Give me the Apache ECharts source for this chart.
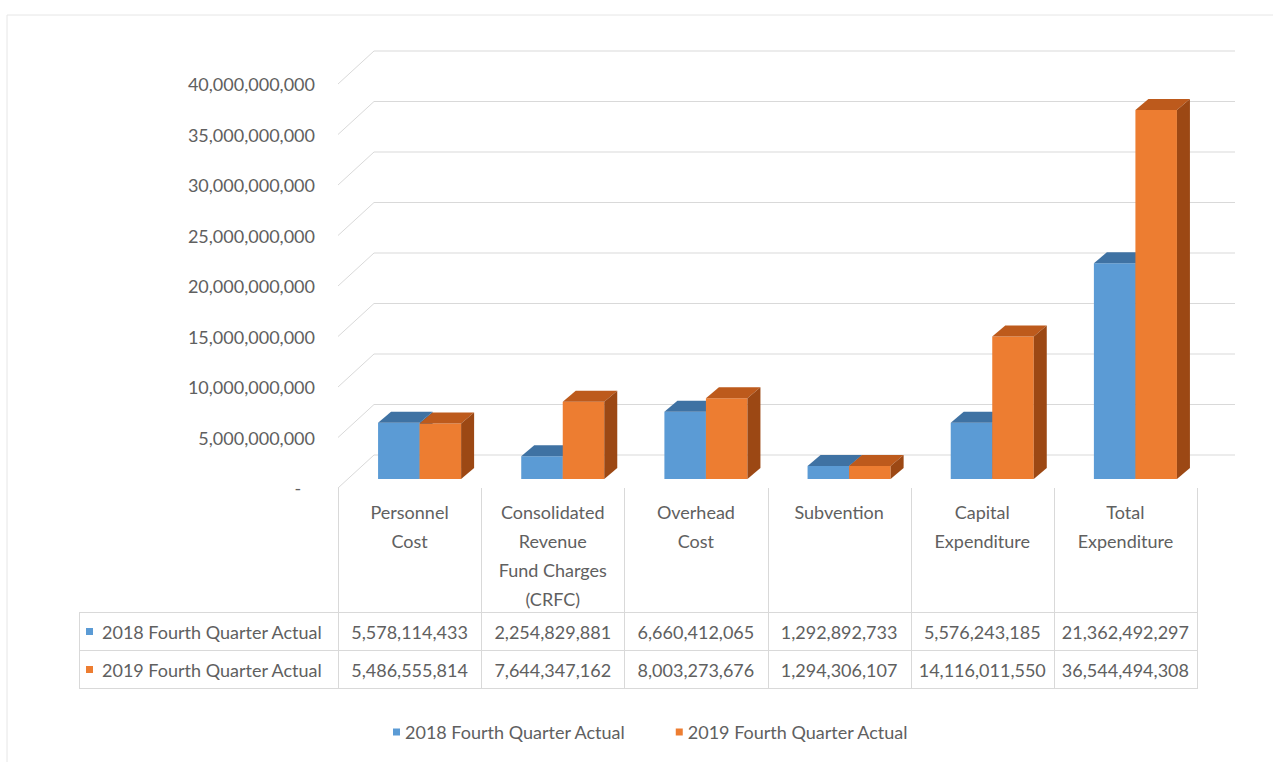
<!DOCTYPE html>
<html>
<head>
<meta charset="utf-8">
<script src="https://cdn.jsdelivr.net/npm/echarts@6/dist/echarts.min.js"></script>
<style>
  html, body { margin: 0; padding: 0; background: #fff; }
  #chart { width: 1273px; height: 762px; }
</style>
</head>
<body>
<div id="chart"></div>
<script>
// data
const categories = [
  'Personnel\nCost',
  'Consolidated\nRevenue\nFund Charges\n(CRFC)',
  'Overhead\nCost',
  'Subvention',
  'Capital\nExpenditure',
  'Total\nExpenditure',
];
const seriesNames = ['2018 Fourth Quarter Actual', '2019 Fourth Quarter Actual'];
const actual2018 = [5578114433, 2254829881, 6660412065, 1292892733, 5576243185, 21362492297];
const actual2019 = [5486555814, 7644347162, 8003273676, 1294306107, 14116011550, 36544494308];
const yTicks = [0, 5e9, 10e9, 15e9, 20e9, 25e9, 30e9, 35e9, 40e9];

// layout
const FONT = 'Lato, "Open Sans", sans-serif';
const FS = 18;
const TEXT = '#606060';
const LINE = '#d9d9d9';
const GRID_L = 338, GRID_R = 1197, ZERO_Y = 488, TOP_Y = 84;
const COL_W = (GRID_R - GRID_L) / categories.length;
const ROW_Y = [612, 650, 688];
const TABLE_L = 79;

const palette = [
  { front: '#5b9bd5', top: '#3f72a3', side: '#3a6793' },
  { front: '#ed7d31', top: '#bd5a1c', side: '#9c4814' },
];

const fmt = (v) => v.toLocaleString('en-US');

// 3D 柱子: 正面 + 頂面 + 側面
const barRenderer = (idx) => (params, api) => {
  const i = api.value(0);
  const v = api.value(1);
  const band = api.size([1, 0])[0];
  const w = band * 0.29;
  const dx = 13, dy = 11;
  const cx = api.coord([i, 0])[0];
  const base = api.coord([i, 0])[1] - 9;
  const top = api.coord([i, v])[1] - 9;
  const x0 = cx + 10 + (idx === 0 ? -w : 0);
  const c = palette[idx];
  return {
    type: 'group',
    children: [
      { type: 'rect', shape: { x: x0, y: top, width: w, height: base - top }, style: { fill: c.front } },
      {
        type: 'polygon',
        shape: { points: [[x0, top], [x0 + dx, top - dy], [x0 + w + dx, top - dy], [x0 + w, top]] },
        style: { fill: c.top },
      },
      {
        type: 'polygon',
        shape: { points: [[x0 + w, top], [x0 + w + dx, top - dy], [x0 + w + dx, base - dy], [x0 + w, base]] },
        style: { fill: c.side },
      },
    ],
  };
};

// 背景牆格線 (側牆斜線 + 背牆水平線)
const wallRenderer = (params, api) => {
  const cs = params.coordSys;
  const y = api.coord([0, api.value(1)])[1];
  return {
    type: 'polyline',
    shape: { points: [[cs.x, y], [cs.x + 36, y - 33], [cs.x + cs.width + 38, y - 33]] },
    style: { stroke: LINE, lineWidth: 1, fill: null },
  };
};

// data table under the chart
const graphic = [];
graphic.push({
  type: 'rect', shape: { x: 7, y: 15, width: 1300, height: 800 },
  style: { fill: null, stroke: '#e6e6e6', lineWidth: 1 }, silent: true,
});
for (let k = 0; k <= categories.length; k++) {
  const x = Math.round(GRID_L + k * COL_W) + 0.5;
  graphic.push({ type: 'line', shape: { x1: x, y1: ZERO_Y, x2: x, y2: ROW_Y[2] }, style: { stroke: LINE, lineWidth: 1 } });
}
graphic.push({ type: 'line', shape: { x1: TABLE_L + 0.5, y1: ROW_Y[0], x2: TABLE_L + 0.5, y2: ROW_Y[2] }, style: { stroke: LINE, lineWidth: 1 } });
ROW_Y.forEach((y) => {
  graphic.push({ type: 'line', shape: { x1: TABLE_L, y1: y + 0.5, x2: GRID_R + 1, y2: y + 0.5 }, style: { stroke: LINE, lineWidth: 1 } });
});
[actual2018, actual2019].forEach((row, r) => {
  const cy = (ROW_Y[r] + ROW_Y[r + 1]) / 2 + 1;
  graphic.push({ type: 'rect', shape: { x: 86, y: cy - 4, width: 7, height: 7 }, style: { fill: palette[r].front } });
  graphic.push({
    type: 'text',
    style: { text: seriesNames[r], x: 102, y: cy, fill: TEXT, font: FS + 'px ' + FONT, textAlign: 'left', textVerticalAlign: 'middle', align: 'left', verticalAlign: 'middle' },
  });
  row.forEach((v, i) => {
    graphic.push({
      type: 'text',
      style: { text: fmt(v), x: GRID_L + (i + 0.5) * COL_W, y: cy, fill: TEXT, font: FS + 'px ' + FONT, textAlign: 'center', textVerticalAlign: 'middle', align: 'center', verticalAlign: 'middle' },
    });
  });
});

const chart = echarts.init(document.getElementById('chart'), null, { renderer: 'svg' });
chart.setOption({
  backgroundColor: '#fff',
  animation: false,
  textStyle: { fontFamily: FONT, color: TEXT },
  grid: { left: GRID_L, right: 1273 - GRID_R, top: TOP_Y, bottom: 762 - ZERO_Y, containLabel: false },
  legend: {
    data: seriesNames,
    left: 388,
    top: 718,
    icon: 'rect',
    itemWidth: 7,
    itemHeight: 7,
    itemGap: 50,
    textStyle: { color: TEXT, fontSize: FS, fontFamily: FONT },
  },
  xAxis: {
    type: 'category',
    data: categories,
    axisLine: { show: false },
    axisTick: { show: false },
    splitLine: { show: false },
    axisLabel: { interval: 0, margin: 9, lineHeight: 29, fontSize: FS, color: TEXT, fontFamily: FONT },
  },
  yAxis: {
    type: 'value',
    min: 0,
    max: 40e9,
    interval: 5e9,
    axisLine: { show: false },
    axisTick: { show: false },
    splitLine: { show: false },
    axisLabel: {
      margin: 23,
      fontSize: FS,
      color: TEXT,
      fontFamily: FONT,
      formatter: (v) => (v === 0 ? '-   ' : fmt(v)),
    },
  },
  series: [
    {
      name: 'wall',
      type: 'custom',
      renderItem: wallRenderer,
      data: yTicks.map((v) => [0, v]),
      encode: { x: 0, y: 1 },
      silent: true,
      z: 1,
    },
    {
      name: seriesNames[0],
      type: 'custom',
      renderItem: barRenderer(0),
      data: actual2018.map((v, i) => [i, v]),
      encode: { x: 0, y: 1 },
      itemStyle: { color: palette[0].front },
      z: 2,
    },
    {
      name: seriesNames[1],
      type: 'custom',
      renderItem: barRenderer(1),
      data: actual2019.map((v, i) => [i, v]),
      encode: { x: 0, y: 1 },
      itemStyle: { color: palette[1].front },
      z: 3,
    },
  ],
  graphic: graphic,
});
</script>
</body>
</html>
